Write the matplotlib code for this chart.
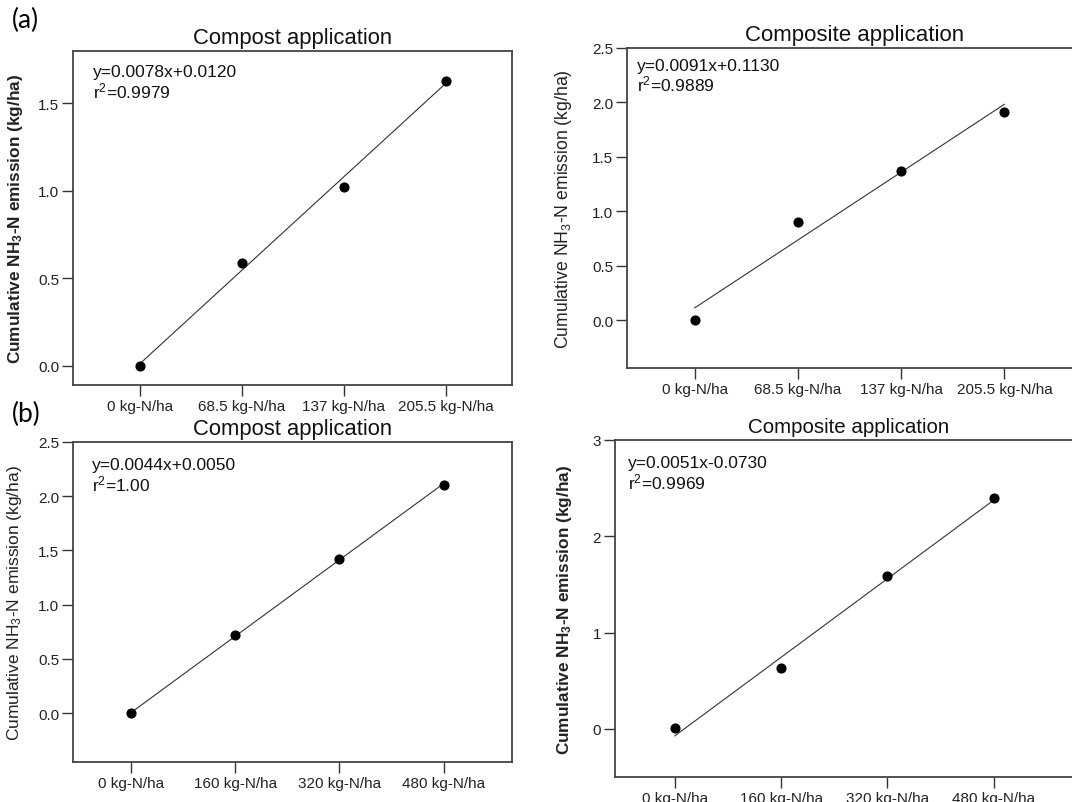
import matplotlib
matplotlib.use("Agg")
import matplotlib.pyplot as plt
import numpy as np

plt.rcParams['font.family'] = ['Liberation Sans', 'DejaVu Sans']
plt.rcParams['mathtext.fontset'] = 'custom'
plt.rcParams['mathtext.rm'] = 'Liberation Sans'
plt.rcParams['mathtext.it'] = 'Liberation Sans:italic'
plt.rcParams['mathtext.bf'] = 'Liberation Sans:bold'

# ---- data ----
x_a = [0, 68.5, 137, 205.5]
xlabels_a = ["0 kg-N/ha", "68.5 kg-N/ha", "137 kg-N/ha", "205.5 kg-N/ha"]
x_b = [0, 160, 320, 480]
xlabels_b = ["0 kg-N/ha", "160 kg-N/ha", "320 kg-N/ha", "480 kg-N/ha"]

y_a_compost = [0.0, 0.59, 1.02, 1.63]
y_a_composite = [0.0, 0.90, 1.37, 1.91]
y_b_compost = [0.0, 0.72, 1.42, 2.10]
y_b_composite = [0.01, 0.63, 1.59, 2.40]

fit_a_compost = (0.0078, 0.0120)
fit_a_composite = (0.0091, 0.1130)
fit_b_compost = (0.0044, 0.0050)
fit_b_composite = (0.0051, -0.0730)

eq_a_compost = "y=0.0078x+0.0120\nr$^2$=0.9979"
eq_a_composite = "y=0.0091x+0.1130\nr$^2$=0.9889"
eq_b_compost = "y=0.0044x+0.0050\nr$^2$=1.00"
eq_b_composite = "y=0.0051x-0.0730\nr$^2$=0.9969"

yticks_a_compost = [0.0, 0.5, 1.0, 1.5]
yticks_a_composite = [0.0, 0.5, 1.0, 1.5, 2.0, 2.5]
yticks_b_compost = [0.0, 0.5, 1.0, 1.5, 2.0, 2.5]
yticks_b_composite = [0, 1, 2, 3]

W, H = 1072, 803
fig = plt.figure(figsize=(W / 100, H / 100), dpi=100)


def add_ax(left, top, right, bottom):
    return fig.add_axes([left / W, 1 - bottom / H, (right - left) / W, (bottom - top) / H])


def panel(ax, x, y, fit, eq, xt, xtl, yt, ytfmt, xlim, ylim, title, bold, lblx, eqpos,
          titlesize=15.8, ylabsize=12.5):
    xs = np.array([x[0], x[-1]])
    ax.plot(xs, fit[0] * xs + fit[1], color='#333333', lw=0.8, zorder=2)
    ax.plot(x, y, 'o', color='black', ms=6.3, zorder=3, clip_on=False)
    ax.set_xlim(*xlim)
    ax.set_ylim(*ylim)
    ax.set_xticks(xt)
    ax.set_xticklabels(xtl)
    ax.set_yticks(yt)
    ax.set_yticklabels([ytfmt.format(v) for v in yt])
    ax.tick_params(direction='out', length=8, width=1.0, labelsize=11, pad=2,
                   colors='#333333', labelcolor='#222222')
    for s in ax.spines.values():
        s.set_color('#444444')
        s.set_linewidth(1.3)
    ax.set_title(title, fontsize=titlesize, pad=6, color='#111111')
    if bold:
        lab = r'Cumulative NH$_{\mathbf{3}}$-N emission (kg/ha)'
    else:
        lab = r'Cumulative NH$_3$-N emission (kg/ha)'
    ax.set_ylabel(lab, fontsize=ylabsize, fontweight='bold' if bold else 'normal',
                  color='#222222')
    ax.yaxis.set_label_coords(lblx, 0.5)
    ax.text(eqpos[0], eqpos[1], eq, transform=ax.transAxes, ha='left', va='top',
            fontsize=12.5, linespacing=1.05, color='#111111')


ax1 = add_ax(73, 52, 512, 386)
panel(ax1, x_a, y_a_compost, fit_a_compost, eq_a_compost, x_a, xlabels_a,
      yticks_a_compost, "{:.1f}", (-45, 250), (-0.11, 1.8), "Compost application",
      True, -0.109, (0.046, 0.96), ylabsize=12.4)

ax2 = add_ax(627, 49, 1082, 369)
panel(ax2, x_a, y_a_composite, fit_a_composite, eq_a_composite, x_a, xlabels_a,
      yticks_a_composite, "{:.1f}", (-45, 257), (-0.44, 2.5), "Composite application",
      False, -0.116, (0.022, 0.97), titlesize=16, ylabsize=12.7)

ax3 = add_ax(73, 443, 512, 763)
panel(ax3, x_b, y_b_compost, fit_b_compost, eq_b_compost, x_b, xlabels_b,
      yticks_b_compost, "{:.1f}", (-89, 585), (-0.45, 2.5), "Compost application",
      False, -0.112, (0.043, 0.952), ylabsize=12.5)

ax4 = add_ax(615, 441, 1082, 778)
panel(ax4, x_b, y_b_composite, fit_b_composite, eq_b_composite, x_b, xlabels_b,
      yticks_b_composite, "{:d}", (-90, 613), (-0.5, 3.0), "Composite application",
      True, -0.088, (0.028, 0.955), titlesize=14.8, ylabsize=12.4)

fig.text(12 / W, 1 - 20 / H, "(a)", fontsize=19, family=['Lato', 'DejaVu Sans'],
         va='center', ha='left')
fig.text(12 / W, 1 - 414 / H, "(b)", fontsize=19, family=['Lato', 'DejaVu Sans'],
         va='center', ha='left')

fig.savefig("out.png", dpi=100)
